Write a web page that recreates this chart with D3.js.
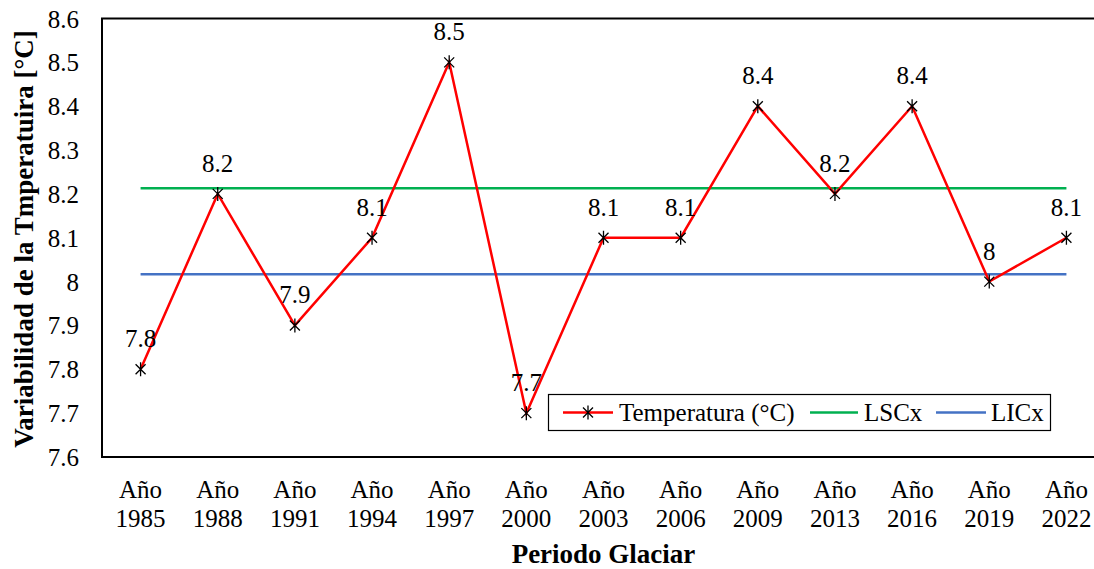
<!DOCTYPE html>
<html>
<head>
<meta charset="utf-8">
<script src="https://cdn.jsdelivr.net/npm/d3@7"></script>
<style>
  body { margin: 0; background: #fff; }
  svg text { font-family: "Liberation Serif", "DejaVu Serif", serif; fill: #000; }
</style>
</head>
<body>
<script>
(function () {
  "use strict";

  var years = ["1985", "1988", "1991", "1994", "1997", "2000", "2003", "2006", "2009", "2013", "2016", "2019", "2022"];
  var temps = [7.8, 8.2, 7.9, 8.1, 8.5, 7.7, 8.1, 8.1, 8.4, 8.2, 8.4, 8.0, 8.1];
  var tempLabels = ["7.8", "8.2", "7.9", "8.1", "8.5", "7.7", "8.1", "8.1", "8.4", "8.2", "8.4", "8", "8.1"];
  var lsc = 8.213;
  var lic = 8.017;
  var yTicks = [7.6, 7.7, 7.8, 7.9, 8, 8.1, 8.2, 8.3, 8.4, 8.5, 8.6];

  var outerWidth = 1094,
      outerHeight = 569,
      left = 102, right = 1105, top = 18.5, bottom = 457,
      fs = '25px',
      titleFs = '27px';

  var svg = d3.select('body').append('svg')
      .attr('width', outerWidth)
      .attr('height', outerHeight);

  var x = d3.scaleBand().domain(years).range([left, right]).padding(0);
  var y = d3.scaleLinear().domain([7.6, 8.6]).range([bottom, top]);
  function cx(d) { return x(d) + x.bandwidth() / 2; }

  // frame
  svg.append('rect')
      .attr('x', left).attr('y', top)
      .attr('width', right - left).attr('height', bottom - top)
      .attr('fill', 'none').attr('stroke', '#000').attr('stroke-width', 2);

  // y axis
  var yAxis = d3.axisLeft(y).tickValues(yTicks).tickSize(0).tickPadding(23)
      .tickFormat(function (d) { return String(+d.toFixed(1)); });
  var gy = svg.append('g').attr('transform', 'translate(' + left + ',0)').call(yAxis);
  gy.attr('font-family', null).attr('font-size', null);
  gy.select('.domain').remove();
  gy.selectAll('text')
      .style('font-size', fs)
      .attr('dy', '0.34em')
      .attr('fill', '#000');

  // x axis (two-line labels)
  var gx = svg.append('g');
  years.forEach(function (yr) {
    var t = gx.append('text')
        .attr('x', cx(yr))
        .attr('text-anchor', 'middle')
        .style('font-size', fs);
    t.append('tspan').attr('x', cx(yr)).attr('y', 498).text('Año');
    t.append('tspan').attr('x', cx(yr)).attr('y', 527).text(yr);
  });

  // titles
  svg.append('text')
      .attr('x', (left + right) / 2)
      .attr('y', 563)
      .attr('text-anchor', 'middle')
      .style('font-size', titleFs)
      .style('font-weight', 'bold')
      .text('Periodo Glaciar');
  svg.append('text')
      .attr('transform', 'translate(33,239) rotate(-90)')
      .attr('text-anchor', 'middle')
      .style('font-size', titleFs)
      .style('font-weight', 'bold')
      .text('Variabilidad de la Tmperatuira [°C]');

  // control limits
  var x0 = cx(years[0]), x1 = cx(years[years.length - 1]);
  svg.append('line')
      .attr('x1', x0).attr('x2', x1).attr('y1', y(lsc)).attr('y2', y(lsc))
      .attr('stroke', '#00B050').attr('stroke-width', 2.5);
  svg.append('line')
      .attr('x1', x0).attr('x2', x1).attr('y1', y(lic)).attr('y2', y(lic))
      .attr('stroke', '#4472C4').attr('stroke-width', 2.5);

  // temperature line
  var line = d3.line()
      .x(function (d, i) { return cx(years[i]); })
      .y(function (d) { return y(d); });
  svg.append('path')
      .datum(temps)
      .attr('d', line)
      .attr('fill', 'none')
      .attr('stroke', '#FF0000')
      .attr('stroke-width', 2.5);

  function star(g, px, py) {
    g.append('path')
        .attr('d', 'M' + (px - 5) + ',' + (py - 5) + 'L' + (px + 5) + ',' + (py + 5) +
                   'M' + (px - 5) + ',' + (py + 5) + 'L' + (px + 5) + ',' + (py - 5) +
                   'M' + px + ',' + (py - 7) + 'L' + px + ',' + (py + 7))
        .attr('stroke', '#000').attr('stroke-width', 1.3).attr('fill', 'none');
  }

  var marks = svg.append('g');
  temps.forEach(function (v, i) { star(marks, cx(years[i]), y(v)); });

  svg.append('g').selectAll('text')
      .data(temps)
      .enter()
    .append('text')
      .attr('x', function (d, i) { return cx(years[i]); })
      .attr('y', function (d) { return y(d) - 22; })
      .attr('text-anchor', 'middle')
      .style('font-size', fs)
      .text(function (d, i) { return tempLabels[i]; });

  // legend
  var lg = svg.append('g');
  lg.append('rect')
      .attr('x', 548.5).attr('y', 394.5).attr('width', 502).attr('height', 36)
      .attr('fill', '#fff').attr('stroke', '#000').attr('stroke-width', 1.2);
  var ly = 412.5;
  lg.append('line').attr('x1', 563).attr('x2', 613).attr('y1', ly).attr('y2', ly)
      .attr('stroke', '#FF0000').attr('stroke-width', 2.5);
  star(lg, 588, ly);
  lg.append('text').attr('x', 619).attr('y', ly + 8.5).style('font-size', fs).text('Temperatura (°C)');
  lg.append('line').attr('x1', 810).attr('x2', 858).attr('y1', ly).attr('y2', ly)
      .attr('stroke', '#00B050').attr('stroke-width', 2.5);
  lg.append('text').attr('x', 864).attr('y', ly + 8.5).style('font-size', fs).text('LSCx');
  lg.append('line').attr('x1', 936).attr('x2', 986).attr('y1', ly).attr('y2', ly)
      .attr('stroke', '#4472C4').attr('stroke-width', 2.5);
  lg.append('text').attr('x', 991).attr('y', ly + 8.5).style('font-size', fs).text('LICx');
}());
</script>
</body>
</html>
